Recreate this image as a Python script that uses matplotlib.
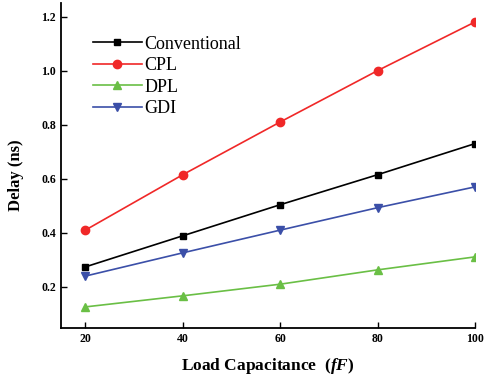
import matplotlib.pyplot as plt
import numpy as np

plt.rcParams['font.family'] = ['Liberation Serif', 'DejaVu Serif']
plt.rcParams['mathtext.fontset'] = 'custom'
plt.rcParams['mathtext.bfit'] = 'Liberation Serif:italic:bold'
plt.rcParams['mathtext.it'] = 'Liberation Serif:italic'

load_cap = [20, 40, 60, 80, 100]
conventional = [0.274, 0.389, 0.504, 0.615, 0.730]
cpl = [0.410, 0.615, 0.810, 1.000, 1.180]
dpl = [0.126, 0.167, 0.210, 0.263, 0.311]
gdi = [0.240, 0.326, 0.410, 0.493, 0.570]

fig = plt.figure(figsize=(4.9, 3.77), dpi=100)
ax = fig.add_axes([0.1245, 0.13, 0.845, 0.862])

ax.plot(load_cap, conventional, color='black', marker='s', ms=5, lw=1.2, label='Conventional')
ax.plot(load_cap, cpl, color='#f02828', marker='o', ms=6, lw=1.2, label='CPL')
ax.plot(load_cap, dpl, color='#6abf45', marker='^', ms=6, lw=1.2, label='DPL')
ax.plot(load_cap, gdi, color='#3b4fa8', marker='v', ms=6, lw=1.2, label='GDI')

ax.set_xlim(15, 100)
ax.set_ylim(0.048, 1.25)
ax.set_xticks(load_cap)
ax.set_yticks([0.2, 0.4, 0.6, 0.8, 1.0, 1.2])
ax.set_yticklabels(['0.2', '0.4', '0.6', '0.8', '1.0', '1.2'])
ax.tick_params(direction='in', length=4, width=1, labelsize=8.5)
for lab in ax.get_xticklabels() + ax.get_yticklabels():
    lab.set_fontweight('bold')

ax.spines['top'].set_visible(False)
ax.spines['right'].set_visible(False)
ax.spines['left'].set_linewidth(1.3)
ax.spines['bottom'].set_linewidth(1.3)

ax.set_xlabel('Load Capacitance  ($\\mathbfit{fF}$)', fontsize=12.5, fontweight='bold', labelpad=8)
ax.set_ylabel('Delay (ns)', fontsize=12, fontweight='bold')
ax.yaxis.set_label_coords(-0.09, 0.47)

leg = ax.legend(loc='upper left', bbox_to_anchor=(0.077, 0.90), frameon=False, fontsize=13,
                handlelength=2.7, handletextpad=0.15, labelspacing=0.25, borderaxespad=0,
                borderpad=0)

fig.savefig('out.png', dpi=100)
